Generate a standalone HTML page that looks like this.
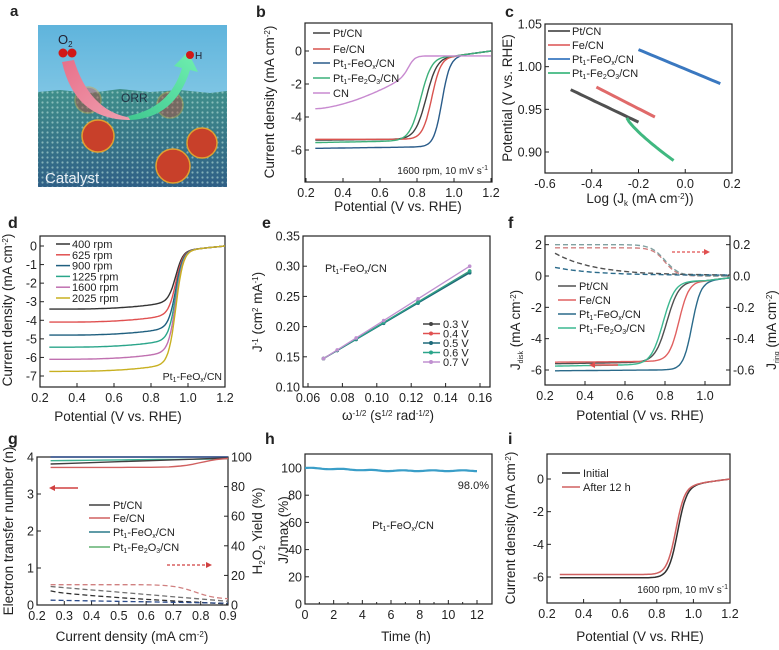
<!DOCTYPE html>
<html><head><meta charset="utf-8"><style>
html,body{margin:0;padding:0;background:#fff;}
svg{display:block;font-family:"Liberation Sans Narrow","Liberation Sans",sans-serif;}
</style></head><body>
<svg id="s" width="779" height="650" viewBox="0 0 779 650" xmlns="http://www.w3.org/2000/svg">
<defs>
<linearGradient id="sky" x1="0" y1="0" x2="0" y2="1"><stop offset="0" stop-color="#5fb4dc"/><stop offset="1" stop-color="#a8dcef"/></linearGradient>
<linearGradient id="surf" x1="0" y1="0" x2="0" y2="1"><stop offset="0" stop-color="#3f8f8a"/><stop offset="1" stop-color="#2f5f86"/></linearGradient>
<pattern id="dots" width="5" height="5" patternUnits="userSpaceOnUse"><circle cx="2.5" cy="2.5" r="1.1" fill="#b8e0d8" opacity="0.6"/></pattern>
<linearGradient id="pinkA" x1="0" y1="0" x2="1" y2="1"><stop offset="0" stop-color="#e8708a"/><stop offset="1" stop-color="#f0a0b0"/></linearGradient>
<linearGradient id="greenA" x1="0" y1="1" x2="1" y2="0"><stop offset="0" stop-color="#40c890"/><stop offset="1" stop-color="#70f0b0"/></linearGradient>
</defs>
<text x="10" y="16" font-size="15" font-weight="bold" fill="#222">a</text>
<g id="a">
<rect x="38" y="25" width="189" height="162" fill="url(#sky)"/>
<path d="M38 92 L60 90 L90 93 L120 89 L150 92 L180 90 L210 93 L227 91 L227 187 L38 187Z" fill="url(#surf)"/>
<path d="M38 92 L60 90 L90 93 L120 89 L150 92 L180 90 L210 93 L227 91 L227 187 L38 187Z" fill="url(#dots)"/>
<g fill="#c8402a" stroke="#e0a030" stroke-width="1.5">
<circle cx="98" cy="136" r="16"/><circle cx="173" cy="166" r="17"/><circle cx="202" cy="143" r="15"/>
<circle cx="88" cy="100" r="13" opacity="0.4"/><circle cx="170" cy="105" r="13" opacity="0.4"/>
</g>
<path d="M62 62 Q75 120 130 120 L132 118 Q90 112 74 60Z" fill="url(#pinkA)"/>
<path d="M130 120 Q175 118 190 70 L198 72 L188 52 L174 66 L182 68 Q170 108 128 116Z" fill="url(#greenA)"/>
<circle cx="63" cy="53" r="4.5" fill="#d01818"/><circle cx="72" cy="53" r="4.5" fill="#d01818"/>
<circle cx="190" cy="55" r="4" fill="#d01818"/>
<text x="58" y="44" font-size="13" fill="#223">O<tspan font-size="8" dy="3">2</tspan></text>
<text x="195" y="59" font-size="10" fill="#223">H</text>
<text x="121" y="102" font-size="12" fill="#234">ORR</text>
<text x="45" y="183" font-size="15" fill="#e8eef4">Catalyst</text>
</g>
<g id="plots"></g>
</svg>
<script>
var g=document.getElementById('plots'),out='';
function T(x,y,t,o){o=o||{};out+='<text x="'+x+'" y="'+y+'" font-size="'+(o.fs||12.5)+'" text-anchor="'+(o.a||'middle')+'"'+(o.b?' font-weight="bold"':'')+(o.r?' transform="rotate(-90 '+x+' '+y+')"':'')+' fill="'+(o.c||'#222')+'">'+t+'</text>';}
function L(p,c,w,d){out+='<path d="'+p+'" fill="none" stroke="'+c+'" stroke-width="'+(w||1.5)+'"'+(d?' stroke-dasharray="'+d+'"':'')+'/>';}
function frame(x0,y0,x1,y1){out+='<rect x="'+x0+'" y="'+y0+'" width="'+(x1-x0)+'" height="'+(y1-y0)+'" fill="none" stroke="#222" stroke-width="1.2"/>';}
function axX(X,y1,vals,fmt){vals.forEach(function(v){var x=X(v);L('M'+x+' '+y1+'v-4','#222',1);T(x,y1+15,fmt(v));});}
function axY(Y,x0,vals,fmt,right){vals.forEach(function(v){var y=Y(v);if(right){L('M'+x0+' '+y+'h-4','#222',1);T(x0+3,y+4.5,fmt(v),{a:'start'});}else{L('M'+x0+' '+y+'h4','#222',1);T(x0-3,y+4.5,fmt(v),{a:'end'});}});}
function curve(f,X,Y,a,b,n){var p='';for(var i=0;i<=n;i++){var v=a+(b-a)*i/n;p+=(i?'L':'M')+X(v).toFixed(1)+' '+Y(f(v)).toFixed(1);}return p;}
function sig(jL,E,w,slope){return function(V){var base=-0.3+0.3*Math.min(1,Math.max(0,(V-1.0)/0.2));var lim=jL+(slope||0)*(V-0.25);return base+(lim-base)/(1+Math.exp((V-E)/w));};}
function f2(v){return v.toFixed(1);}
function lin(a0,a1,p0,p1){return function(v){return p0+(v-a0)*(p1-p0)/(a1-a0);};}
var FEOX='Pt<tspan font-size="7" dy="2">1</tspan><tspan dy="-2">-FeO</tspan><tspan font-size="7" dy="2">x</tspan><tspan dy="-2">/CN</tspan>';
var FE2O3='Pt<tspan font-size="7" dy="2">1</tspan><tspan dy="-2">-Fe</tspan><tspan font-size="7" dy="2">2</tspan><tspan dy="-2">O</tspan><tspan font-size="7" dy="2">3</tspan><tspan dy="-2">/CN</tspan>';
var CD='Current density (mA cm<tspan font-size="8" dy="-4">-2</tspan><tspan dy="4">)</tspan>';
// b
(function(){var X=lin(0.2,1.2,306,491),Y=lin(0,-6,51,150);frame(305,23,492,182);
axX(X,182,[0.2,0.4,0.6,0.8,1.0,1.2],f2);axY(Y,305,[0,-2,-4,-6],function(v){return v;});
T(256,17,'b',{fs:16,a:'start',b:1});T(398,211,'Potential (V vs. RHE)',{fs:13.5});T(274,102,CD,{fs:13.5,r:1});
var S=[['#404040',sig(-5.4,0.85,0.03,0.1)],['#d9534f',sig(-5.35,0.88,0.025,0)],['#2a5c8a',sig(-5.9,0.935,0.022,0.15)],['#3cb07a',sig(-5.55,0.82,0.03,0.2)],['#c88ad0',function(V){var lim=-3.5+2.0*Math.pow((V-0.25)/0.5,1.6);return -0.3+(lim+0.3)/(1+Math.exp((V-0.76)/0.018));}]];
S.forEach(function(s){L(curve(s[1],X,Y,0.25,1.2,120),s[0],1.4);});
var names=['Pt/CN','Fe/CN',FEOX,FE2O3,'CN'];
[33,49,63,78,93].forEach(function(y,i){L('M313 '+y+'h17',S[i][0],1.5);T(333,y+4,names[i],{a:'start',fs:11});});
T(488,174,'1600 rpm, 10 mV s<tspan font-size="7" dy="-4">-1</tspan>',{a:'end',fs:10});})();
// c
(function(){var X=lin(-0.6,0.2,545,732),Y=lin(1.05,0.90,24,152);frame(545,24,732,173);
axX(X,173,[-0.6,-0.4,-0.2,0.0,0.2],f2);axY(Y,545,[1.05,1.00,0.95,0.90],function(v){return v.toFixed(2);});
T(505,17,'c',{fs:16,a:'start',b:1});T(640,203,'Log (J<tspan font-size="8" dy="3">k</tspan><tspan dy="-3"> (mA cm</tspan><tspan font-size="8" dy="-4">-2</tspan><tspan dy="4">))</tspan>',{fs:13.5});T(512,98,'Potential (V vs. RHE)',{fs:13.5,r:1});
L(curve(function(x){return 0.973-(x+0.49)*0.131;},X,Y,-0.49,-0.2,20),'#505050',3);
L(curve(function(x){return 0.976-(x+0.38)*0.14;},X,Y,-0.38,-0.13,20),'#e06a6a',3);
L(curve(function(x){return 1.02-(x+0.2)*0.114;},X,Y,-0.2,0.15,20),'#3a78c0',3);
L(curve(function(x){return 0.94-0.05*Math.pow((x+0.25)/0.2,0.8);},X,Y,-0.25,-0.05,20),'#40b880',3);
var cs=['#505050','#e06a6a','#3a78c0','#40b880'];var nm=['Pt/CN','Fe/CN',FEOX,FE2O3];
[31,45,59,73].forEach(function(y,i){L('M548 '+y+'h22',cs[i],1.8);T(572,y+4,nm[i],{a:'start',fs:11});});})();
// d
(function(){var X=lin(0.2,1.2,40,225),Y=lin(0,-7,246,376);frame(40,236,225,387);
axX(X,387,[0.2,0.4,0.6,0.8,1.0,1.2],f2);axY(Y,40,[0,-1,-2,-3,-4,-5,-6,-7],function(v){return v;});
T(8,228,'d',{fs:16,a:'start',b:1});T(118,421,'Potential (V vs. RHE)',{fs:13.5});T(12,310,CD,{fs:13.5,r:1});
var cs=['#333','#e05050','#1f5f7f','#2aa58a','#c070b0','#c8b020'],jl=[-3.4,-4.1,-4.8,-5.45,-6.1,-6.75],nm=['400 rpm','625 rpm','900 rpm','1225 rpm','1600 rpm','2025 rpm'];
jl.forEach(function(j,i){L(curve(function(V){var base=-0.2+0.2*Math.min(1,Math.max(0,(V-1.0)/0.2));var lim=j+0.3*Math.pow((V-0.25)/0.6,3);return base+(lim-base)/(1+Math.exp((V-0.935)/0.02));},X,Y,0.25,1.2,120),cs[i],1.4);
var y=244+i*10.8;L('M56 '+y+'h14',cs[i],1.5);T(72,y+4,nm[i],{a:'start',fs:11});});
T(222,380,FEOX,{a:'end',fs:10.5});})();
// e
(function(){var X=lin(0.06,0.16,308,480),Y=lin(0.35,0.10,236,387);frame(303,236,490,387);
axX(X,387,[0.06,0.08,0.10,0.12,0.14,0.16],function(v){return v.toFixed(2);});axY(Y,303,[0.35,0.30,0.25,0.20,0.15,0.10],function(v){return v.toFixed(2);});
T(262,228,'e',{fs:16,a:'start',b:1});T(388,420,'ω<tspan font-size="8" dy="-4">-1/2</tspan><tspan dy="4"> (s</tspan><tspan font-size="8" dy="-4">1/2</tspan><tspan dy="4"> rad</tspan><tspan font-size="8" dy="-4">-1/2</tspan><tspan dy="4">)</tspan>',{fs:13.5});
T(262,312,'J<tspan font-size="8" dy="-4">-1</tspan><tspan dy="4"> (cm</tspan><tspan font-size="8" dy="-4">2</tspan><tspan dy="4"> mA</tspan><tspan font-size="8" dy="-4">-1</tspan><tspan dy="4">)</tspan>',{fs:13.5,r:1});
T(325,272,FEOX,{a:'start',fs:11});
var cs=['#444','#e05050','#1f6a7a','#2aa58a','#c090d0'],ends=[0.291,0.292,0.289,0.292,0.300],nm=['0.3 V','0.4 V','0.5 V','0.6 V','0.7 V'];var xs=[0.069,0.077,0.088,0.104,0.124,0.154];
cs.forEach(function(c,i){var p='';xs.forEach(function(x,k){var y=0.147+(x-0.069)*(ends[i]-0.147)/(0.154-0.069);p+=(k?'L':'M')+X(x)+' '+Y(y);out+='<circle cx="'+X(x)+'" cy="'+Y(y)+'" r="1.8" fill="'+c+'"/>';});L(p,c,1.3);
var y=324+i*9.5;L('M423 '+y+'h17',c,1.5);out+='<circle cx="431" cy="'+y+'" r="2" fill="'+c+'"/>';T(443,y+4,nm[i],{a:'start',fs:11});});})();
// f
(function(){var X=lin(0.2,1.0,545,705),Y=lin(0,-6,276,370),Yr=lin(0,-0.6,276,370);frame(545,236,730,385);
axX(X,385,[0.2,0.4,0.6,0.8,1.0],f2);axY(Y,545,[2,0,-2,-4,-6],function(v){return v;});axY(Yr,730,[0.2,0.0,-0.2,-0.4,-0.6],f2,1);
T(508,228,'f',{fs:16,a:'start',b:1});T(640,420,'Potential (V vs. RHE)',{fs:13.5});
T(520,330,'J<tspan font-size="7" dy="3">disk</tspan><tspan dy="-3"> (mA cm</tspan><tspan font-size="8" dy="-4">-2</tspan><tspan dy="4">)</tspan>',{fs:13.5,r:1});
T(776,330,'J<tspan font-size="7" dy="3">ring</tspan><tspan dy="-3"> (mA cm</tspan><tspan font-size="8" dy="-4">-2</tspan><tspan dy="4">)</tspan>',{fs:13.5,r:1});
var cs=['#505050','#e06060','#2a6a8a','#3cb890'];var S=[sig(-5.6,0.81,0.03,0.2),sig(-5.5,0.87,0.025,0.1),sig(-6.05,0.935,0.022,0.1),sig(-5.75,0.79,0.03,0.2)];
S.forEach(function(f,i){L(curve(f,X,Y,0.25,1.125,100),cs[i],1.4);});
L(curve(function(V){return 0.18-0.18/(1+Math.exp(-(V-0.8)/0.03));},X,Yr,0.25,1.125,60),'#d08080',1.4,'5 3');
L(curve(function(V){return 0.2-0.2/(1+Math.exp(-(V-0.8)/0.035));},X,Yr,0.25,1.125,60),'#80a0a0',1.4,'5 3');
L(curve(function(V){return 0.005+0.14*Math.exp(-(V-0.25)/0.2);},X,Yr,0.25,1.125,60),'#505050',1.4,'5 3');
L(curve(function(V){return 0.005+0.05*Math.exp(-(V-0.25)/0.2);},X,Yr,0.25,1.125,60),'#2a6a8a',1.4,'5 3');
L('M672 252h32','#e05050',1.2,'3 2');out+='<path d="M710 252l-6-3v6z" fill="#e05050"/>';
L('M618 365h-24','#e05050',1.5);out+='<path d="M589 365l6-3v6z" fill="#e05050"/>';
var nm=['Pt/CN','Fe/CN',FEOX,FE2O3];
[286,300,314,328].forEach(function(y,i){L('M558 '+y+'h18',cs[i],1.5);T(579,y+4,nm[i],{a:'start',fs:11});});})();
// g
(function(){var X=lin(0.2,0.9,37,228),Y=lin(0,4,605,457);frame(37,457,228,605);
axX(X,605,[0.2,0.3,0.4,0.5,0.6,0.7,0.8,0.9],f2);axY(Y,37,[0,1,2,3,4],function(v){return v;});
axY(lin(0,100,605,457),228,[0,20,40,60,80,100],function(v){return v;},1);
T(8,444,'g',{fs:16,a:'start',b:1});T(132,641,CD,{fs:13.5});
T(13,531,'Electron transfer number (n)',{fs:13.5,r:1});T(262,531,'H<tspan font-size="8" dy="3">2</tspan><tspan dy="-3">O</tspan><tspan font-size="8" dy="3">2</tspan><tspan dy="-3"> Yield (%)</tspan>',{fs:13.5,r:1});
L(curve(function(x){return 4.0;},X,Y,0.25,0.9,10),'#2a4a8a',1.6);
L(curve(function(x){return 3.9+0.08*(x-0.25);},X,Y,0.25,0.9,10),'#3cb090',1.4);
L(curve(function(x){return 3.81+0.25*(x-0.25);},X,Y,0.25,0.9,10),'#404040',1.4);
L(curve(function(x){return 3.72+0.26/(1+Math.exp(-(x-0.8)/0.04));},X,Y,0.25,0.9,30),'#d06060',1.4);
L(curve(function(x){return 0.55-0.4/(1+Math.exp(-(x-0.78)/0.04));},X,Y,0.25,0.9,30),'#d08080',1.3,'5 3');
L(curve(function(x){return 0.5-0.4*(x-0.25)/0.65;},X,Y,0.25,0.9,30),'#707070',1.3,'5 3');
L(curve(function(x){return 0.38-0.35*Math.pow((x-0.25)/0.65,0.7);},X,Y,0.25,0.9,30),'#303030',1.3,'5 3');
L(curve(function(x){return 0.13-0.08*(x-0.25)/0.65;},X,Y,0.25,0.9,30),'#2a4a8a',1.3,'5 3');
L('M78 488h-24','#d04040',1.5);out+='<path d="M49 488l6-3v6z" fill="#d04040"/>';
L('M167 565h40','#d04040',1.2,'3 2');out+='<path d="M212 565l-6-3v6z" fill="#d04040"/>';
var cs=['#404040','#d06060','#2a7a8a','#60b070'];var nm=['Pt/CN','Fe/CN',FEOX,FE2O3];
[505,518,532,547].forEach(function(y,i){L('M89 '+y+'h21',cs[i],1.5);T(113,y+4,nm[i],{a:'start',fs:11});});})();
// h
(function(){var X=lin(0,12,305,477),Y=lin(0,100,604,468);frame(305,454,492,604);
axX(X,604,[0,2,4,6,8,10,12],function(v){return v;});axY(Y,305,[0,20,40,60,80,100],function(v){return v;});
for(var t=1;t<13;t+=2)L('M'+X(t)+' 604v-2','#222',1);
T(265,444,'h',{fs:16,a:'start',b:1});T(406,641,'Time (h)',{fs:13.5});T(288,530,'J/Jmax (%)',{fs:13.5,r:1});
L(curve(function(t){return 100-2*Math.min(1,t/5.5)+0.3*Math.sin(t*3);},X,Y,0,12,80),'#3a9ec8',2.2);
T(489,489,'98.0%',{a:'end',fs:11});T(403,529,FEOX,{fs:11});})();
// i
(function(){var X=lin(0.2,1.2,547,730),Y=lin(0,-6,479,577);frame(547,454,730,603);
axX(X,603,[0.2,0.4,0.6,0.8,1.0,1.2],f2);axY(Y,547,[0,-2,-4,-6],function(v){return v;});
T(508,444,'i',{fs:16,a:'start',b:1});T(640,641,'Potential (V vs. RHE)',{fs:13.5});T(515,528,CD,{fs:13.5,r:1});
L(curve(sig(-6.05,0.915,0.025,0),X,Y,0.27,1.2,100),'#303030',1.5);
L(curve(sig(-5.85,0.905,0.025,0),X,Y,0.27,1.2,100),'#d06060',1.5);
L('M562 473h18','#303030',1.5);T(583,477,'Initial',{a:'start',fs:11});
L('M562 487h18','#d06060',1.5);T(583,491,'After 12 h',{a:'start',fs:11});
T(728,593,'1600 rpm, 10 mV s<tspan font-size="7" dy="-4">-1</tspan>',{a:'end',fs:10});})();
g.innerHTML=out;
</script>
</body></html>
